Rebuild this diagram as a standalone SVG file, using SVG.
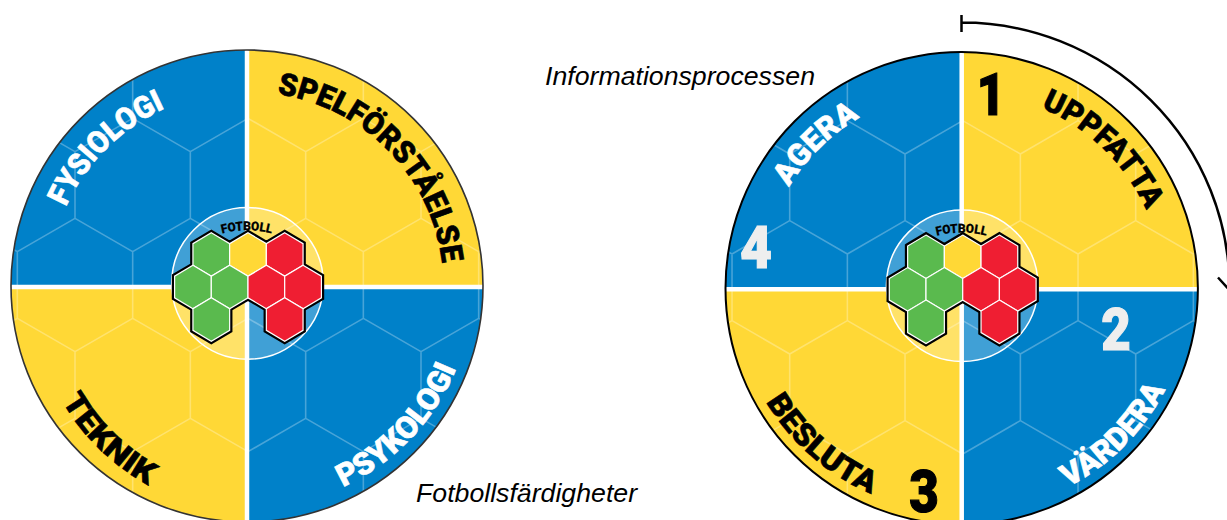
<svg xmlns="http://www.w3.org/2000/svg" width="1227" height="520" viewBox="0 0 1227 520">
<style>
.cap{font-family:"Liberation Sans",Arial,sans-serif;font-style:italic;font-size:26.7px;fill:#000}
.lab{font-family:"Roboto","DejaVu Sans",sans-serif;font-weight:900;font-size:31px;stroke-width:.6;stroke-linejoin:round}
.b{fill:#000;stroke:#000}.w{fill:#fff;stroke:#fff}.e{fill:#eee;stroke:#eee}
.num{font-family:"Roboto","DejaVu Sans",sans-serif;font-weight:900;font-size:60px;text-anchor:middle;stroke-width:1.2}
.fb{font-family:"Roboto","DejaVu Sans",sans-serif;font-weight:900;font-size:12.5px;fill:#000;stroke:#000;stroke-width:.2}
.gr{fill:none;stroke:#fff;stroke-opacity:.28;stroke-width:1.6}
.sep{stroke:#fff;stroke-width:4.5}
.hx{stroke:#fff;stroke-width:1.2}
.g{fill:#5aba4e}.r{fill:#ef1e32}.y{fill:#ffd836}.bl{fill:#0081c9}
</style>
<defs>
<clipPath id="cc"><circle r="236"/></clipPath>
<path id="hex" d="M0-21.7 18.35-10.8V10.8L0 21.7-18.35 10.8V-10.8Z"/>
<path id="grid" class="gr" d="M-288.33-66.67-230.67-33.33-173-66.67-115.33-33.33-57.67-66.67 0-33.33 57.67-66.67 115.33-33.33 173-66.67 230.67-33.33 288.33-66.67M-288.33 66.67-230.67 33.33-173 66.67-115.33 33.33-57.67 66.67 0 33.33 57.67 66.67 115.33 33.33 173 66.67 230.67 33.33 288.33 66.67M-288.33-133.33-230.67-166.67-173-133.33-115.33-166.67-57.67-133.33 0-166.67 57.67-133.33 115.33-166.67 173-133.33 230.67-166.67 288.33-133.33M-288.33 133.33-230.67 166.67-173 133.33-115.33 166.67-57.67 133.33 0 166.67 57.67 133.33 115.33 166.67 173 133.33 230.67 166.67 288.33 133.33M-230.67-33.33V33.33M-115.33-33.33V33.33M0-33.33V33.33M115.33-33.33V33.33M230.67-33.33V33.33M-173-133.33V-66.67M-57.67-133.33V-66.67M57.67-133.33V-66.67M173-133.33V-66.67M-173 66.67V133.33M-57.67 66.67V133.33M57.67 66.67V133.33M173 66.67V133.33M-230.67-233V-166.67M-115.33-233V-166.67M0-233V-166.67M115.33-233V-166.67M230.67-233V-166.67M-230.67 166.67V233M-115.33 166.67V233M0 166.67V233M115.33 166.67V233M230.67 166.67V233"/>
<g id="wheel">
<g clip-path="url(#cc)">
<rect class="bl" x="-240" y="-240" width="240" height="240"/>
<rect class="y" x="0" y="-240" width="240" height="240"/>
<rect class="y" x="-240" y="0" width="240" height="240"/>
<rect class="bl" x="0" y="0" width="240" height="240"/>
<use href="#grid" x="1" y="-1"/>
<path class="sep" d="M0-240V240M-240 1H240"/>
</g>
<circle cx=".5" cy="-2.6" r="75.8" fill="#fff" fill-opacity=".25" stroke="#fff" stroke-width="1.5"/>
<g transform="translate(1 1)">
<path fill="#000" stroke="#000" stroke-width="5.6" d="M-55.05-43.3-36.7-54.2-18.35-43.3 0-54.2 18.35-43.3 36.7-54.2 55.05-43.3V-21.7L73.4-10.8V10.8L55.05 21.7V43.3L36.7 54.2 18.35 43.3V21.7L0 10.8-18.35 21.7V43.3L-36.7 54.2-55.05 43.3V21.7L-73.4 10.8V-10.8L-55.05-21.7Z"/>
<use href="#hex" class="hx g" x="-36.7" y="-32.5"/>
<use href="#hex" class="hx y" x="0" y="-32.5"/>
<use href="#hex" class="hx r" x="36.7" y="-32.5"/>
<use href="#hex" class="hx g" x="-55.05"/>
<use href="#hex" class="hx g" x="-18.35"/>
<use href="#hex" class="hx r" x="18.35"/>
<use href="#hex" class="hx r" x="55.05"/>
<use href="#hex" class="hx g" x="-36.7" y="32.5"/>
<use href="#hex" class="hx r" x="36.7" y="32.5"/>
</g>
</g>
<path id="a-fys" d="M66 207A197 197 0 0 1 166 108"/>
<path id="a-spe" d="M277 94A195 195 0 0 1 442 262"/>
<path id="a-tek" d="M62 401A222 222 0 0 0 150 486"/>
<path id="a-psy" d="M343 487A222 222 0 0 0 456 369"/>
<path id="a-upp" d="M1041 108A198 198 0 0 1 1146 210"/>
<path id="a-age" d="M789 187A198 198 0 0 1 859 118"/>
<path id="a-bes" d="M766 402A224 224 0 0 0 872 494"/>
<path id="a-var" d="M1068 487A225 225 0 0 0 1166 388"/>
<path id="a-fb" d="M-25-52.5A100 100 0 0 1 25-52.5"/>
</defs>

<g id="connectors">
<path d="M961.5 22.5A268 266 0 0 1 1229.5 288.5M961.5 15V32M1218 277.5 1229 289.5" fill="none" stroke="#000" stroke-width="2.5"/>
</g>

<g id="wheel-skills" transform="translate(247 286)"><use href="#wheel"/><circle r="236" fill="none" stroke="#333" stroke-width="1.6"/></g>
<g id="wheel-process" transform="translate(961.7 288.3)"><use href="#wheel"/><circle r="236.2" fill="none" stroke="#000" stroke-width="2"/></g>

<g id="labels-skills">
<text class="lab w"><textPath href="#a-fys" textLength="143" lengthAdjust="spacingAndGlyphs">FYSIOLOGI</textPath></text>
<text class="lab b"><textPath href="#a-spe" textLength="254" lengthAdjust="spacingAndGlyphs">SPELFÖRSTÅELSE</textPath></text>
<text class="lab b"><textPath href="#a-tek" textLength="122" lengthAdjust="spacingAndGlyphs">TEKNIK</textPath></text>
<text class="lab w"><textPath href="#a-psy" textLength="168" lengthAdjust="spacingAndGlyphs">PSYKOLOGI</textPath></text>
<g transform="translate(247 286)"><text class="fb"><textPath href="#a-fb" textLength="50" lengthAdjust="spacingAndGlyphs">FOTBOLL</textPath></text></g>
</g>
<g id="labels-process">
<text class="lab b"><textPath href="#a-upp" textLength="150" lengthAdjust="spacingAndGlyphs">UPPFATTA</textPath></text>
<text class="lab w"><textPath href="#a-age" textLength="100" lengthAdjust="spacingAndGlyphs">AGERA</textPath></text>
<text class="lab b"><textPath href="#a-bes" textLength="142" lengthAdjust="spacingAndGlyphs">BESLUTA</textPath></text>
<text class="lab w"><textPath href="#a-var" textLength="140" lengthAdjust="spacingAndGlyphs">VÄRDERA</textPath></text>
<g transform="translate(961.7 288.3)"><text class="fb"><textPath href="#a-fb" textLength="50" lengthAdjust="spacingAndGlyphs">FOTBOLL</textPath></text></g>
<text class="num b" transform="translate(991 114.5) scale(.82 1)">1</text>
<text class="num e" transform="translate(1116 349.5) scale(.85 1)">2</text>
<text class="num b" transform="translate(924 511.5) scale(.85 1)">3</text>
<text class="num e" transform="translate(756 268) scale(.92 1)">4</text>
</g>
<text class="cap" x="545" y="85">Informationsprocessen</text>
<text class="cap" x="416" y="501.5">Fotbollsfärdigheter</text>
</svg>
